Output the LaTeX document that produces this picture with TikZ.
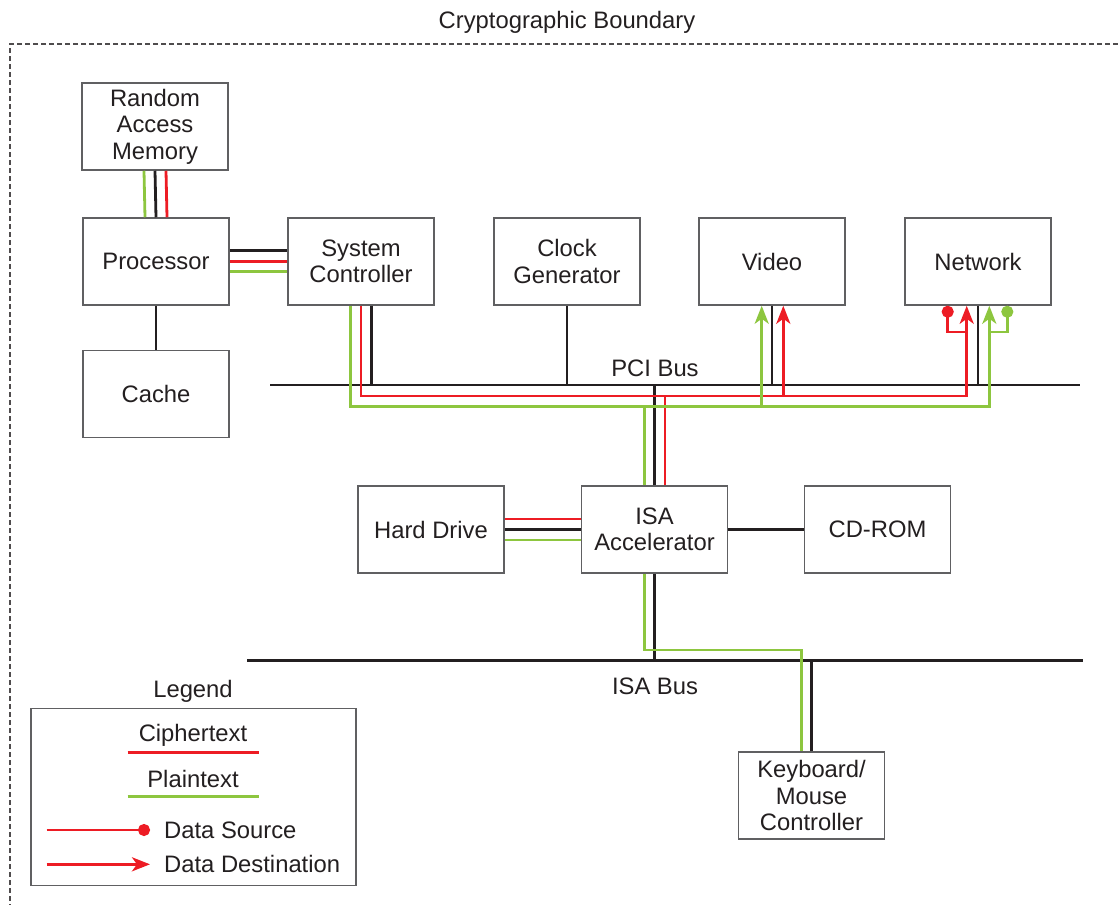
\documentclass[tikz,border=0pt]{standalone}
\usepackage{fontspec}
\setmainfont{Liberation Sans}
\usetikzlibrary{arrows.meta}
\definecolor{ink}{HTML}{231F20}
\definecolor{cred}{HTML}{ED1C24}
\definecolor{cgrn}{HTML}{8DC63F}
\definecolor{edge}{HTML}{606062}
\tikzset{
  box/.style={draw=edge, line width=1.5pt, fill=white, minimum width=146pt, minimum height=87pt, align=center, inner sep=0pt, text=ink},
  lbl/.style={text=ink, inner sep=0pt, align=center},
  blk/.style={draw=ink, line width=2.8pt},
  cipher/.style={draw=cred, line width=2.8pt},
  plain/.style={draw=cgrn, line width=2.8pt},
  dest/.style={-{Stealth[length=18pt,width=14pt,inset=5pt]}},
  src/.style={{Circle[length=12pt]}-},
  boundary/.style={draw=ink!80, line width=1.2pt, dash pattern=on 5pt off 3pt}
}
\begin{document}
\begin{tikzpicture}[x=1pt,y=-1pt,font=\fontsize{23.8}{26.5}\selectfont]
\useasboundingbox (0,0) rectangle (1118,905);
% boundary
\node[lbl] (title) at (567,22) {Cryptographic Boundary};
\coordinate (bTL) at (10,44);
\coordinate (bTR) at (1118,44);
\coordinate (bBL) at (10,905);
\draw[boundary] (bTR) -- (bTL) -- (bBL);

% boxes
\node[box] (ram) at (155,126.5) {Random\\Access\\Memory};
\node[box] (proc) at (156,261.5) {Processor};
\node[box] (cache) at (156,394) {Cache};
\node[box] (sysc) at (361,261.5) {System\\Controller};
\node[box] (clk) at (567,261.5) {Clock\\Generator};
\node[box] (video) at (772,261.5) {Video};
\node[box] (net) at (978,261.5) {Network};
\node[box] (hd) at (431,529.5) {Hard Drive};
\node[box] (isa) at (654.5,529.5) {ISA\\Accelerator};
\node[box] (cd) at (877.5,529.5) {CD-ROM};
\node[box] (kbd) at (811.5,795.5) {Keyboard/\\Mouse\\Controller};

% buses
\coordinate (pciL) at (270,385);
\coordinate (pciR) at (1080,385);
\coordinate (isabL) at (247,660.7);
\coordinate (isabR) at (1083,660.7);
\draw[blk] (pciL) -- (pciR);
\draw[blk] (isabL) -- (isabR);
\node[lbl] (pcilbl) at (655,368) {PCI Bus};
\node[lbl] (isalbl) at (655,686) {ISA Bus};

% helper levels
\coordinate (rY) at (0,396);
\coordinate (gY) at (0,406.7);
\coordinate (kY) at (0,332);
\coordinate (iY) at (0,650);

% RAM - Processor
\draw[plain] ([xshift=-11pt]ram.south) -- ([xshift=-11pt]proc.north);
\draw[blk] ([xshift=0pt]ram.south) -- ([xshift=0pt]proc.north);
\draw[cipher] ([xshift=11pt]ram.south) -- ([xshift=11pt]proc.north);
% Processor - Cache
\draw[blk] (proc.south) -- (cache.north);
% Processor - System Controller
\draw[blk] ([yshift=11pt]proc.east) -- ([yshift=11pt]sysc.west);
\draw[cipher] (proc.east) -- (sysc.west);
\draw[plain] ([yshift=-10pt]proc.east) -- ([yshift=-10pt]sysc.west);

% taps to PCI bus
\coordinate (scK) at ([xshift=10.7pt]sysc.south);
\coordinate (scR) at (sysc.south);
\coordinate (scG) at ([xshift=-10.3pt]sysc.south);
\draw[blk] (scK) -- (scK |- pciL);
\draw[blk] (clk.south) -- (clk.south |- pciL);
\draw[blk] (video.south) -- (video.south |- pciL);
\draw[blk] (net.south) -- (net.south |- pciL);
\draw[blk] (isa.north) -- (isa.north |- pciL);

% ciphertext over PCI
\coordinate (vidR) at ([xshift=11.3pt]video.south);
\coordinate (netR) at ([xshift=-11.3pt]net.south);
\coordinate (netRd) at ([xshift=-30.3pt]net.south);
\coordinate (isaR) at ([xshift=10.5pt]isa.north);
\draw[cipher, dest] (scR) |- (netR |- rY) -- (netR);
\draw[cipher, dest] (vidR |- rY) -- (vidR);
\draw[cipher] (isaR) -- (isaR |- rY);
\draw[cipher, src] (netRd) |- (netR |- kY);

% plaintext over PCI
\coordinate (vidG) at ([xshift=-10.3pt]video.south);
\coordinate (netG) at ([xshift=11.3pt]net.south);
\coordinate (netGd) at ([xshift=29.3pt]net.south);
\coordinate (isaG) at ([xshift=-10.2pt]isa.north);
\draw[plain, dest] (scG) |- (netG |- gY) -- (netG);
\draw[plain, dest] (vidG |- gY) -- (vidG);
\draw[plain] (isaG) -- (isaG |- gY);
\draw[plain, src] (netGd) |- (netG |- kY);

% Hard drive - ISA accelerator
\draw[cipher] ([yshift=10.5pt]hd.east) -- ([yshift=10.5pt]isa.west);
\draw[blk] (hd.east) -- (isa.west);
\draw[plain] ([yshift=-10.5pt]hd.east) -- ([yshift=-10.5pt]isa.west);
% ISA accelerator - CD-ROM
\draw[blk] (isa.east) -- (cd.west);

% ISA accelerator - ISA bus - keyboard
\draw[blk] (isa.south) -- (isa.south |- isabL);
\draw[blk] (kbd.north) -- (kbd.north |- isabL);
\coordinate (isaGb) at ([xshift=-10.2pt]isa.south);
\coordinate (kbdG) at ([xshift=-9.8pt]kbd.north);
\draw[plain] (isaGb) |- (kbdG |- iY) -- (kbdG);

% legend
\node[lbl] (legt) at (193,691) {Legend};
\node[box, minimum width=325pt, minimum height=177pt] (leg) at (193.5,797) {};
\node[lbl] (lc) at (193,735) {Ciphertext};
\coordinate (lcA) at (127.7,752.7);
\coordinate (lcB) at (259.3,752.7);
\draw[cipher] (lcA) -- (lcB);
\node[lbl] (lp) at (193,779) {Plaintext};
\coordinate (lpA) at (127.7,796.7);
\coordinate (lpB) at (259.3,796.7);
\draw[plain] (lpA) -- (lpB);
\coordinate (lsA) at (46.7,830);
\coordinate (lsB) at (150,830);
\draw[cipher, {-Circle[length=12pt]}] (lsA) -- (lsB);
\node[lbl, anchor=west] (ls) at (164,830) {Data Source};
\coordinate (ldA) at (46.7,864.3);
\coordinate (ldB) at (150,864.3);
\draw[cipher, dest] (ldA) -- (ldB);
\node[lbl, anchor=west] (ld) at (164,864.3) {Data Destination};
\end{tikzpicture}
\end{document}
